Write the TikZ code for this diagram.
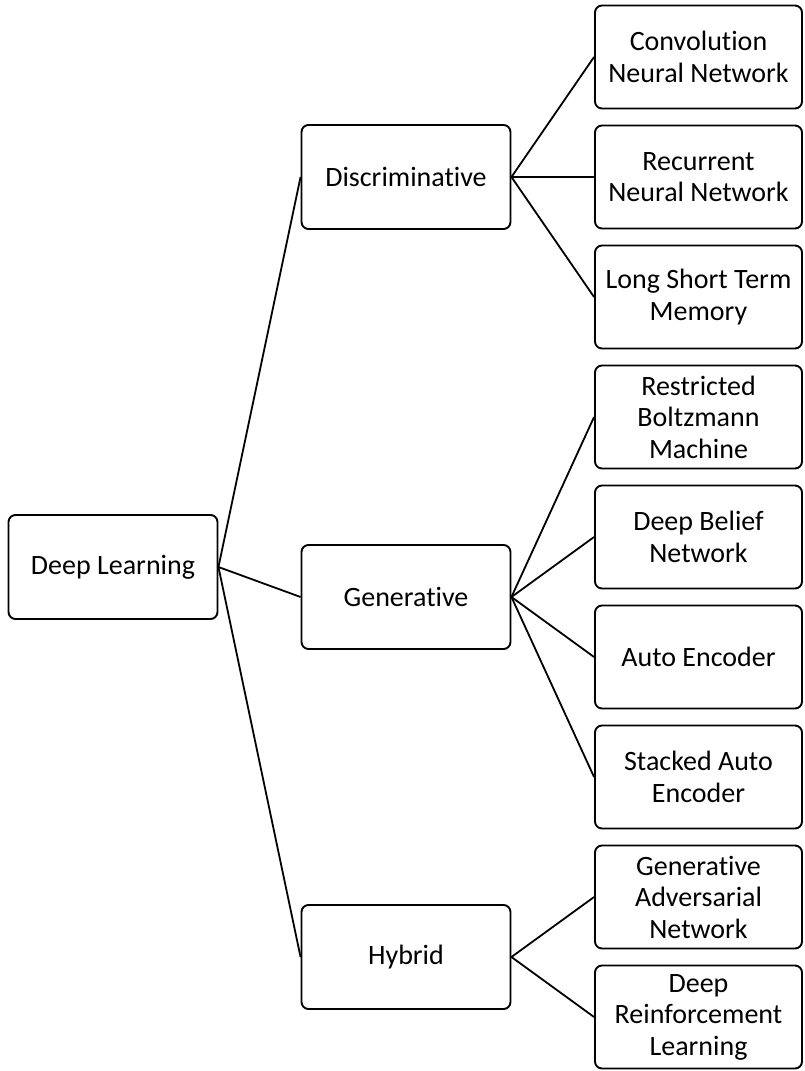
\documentclass[tikz,border=0pt]{standalone}
\usepackage{fontspec}
\setmainfont{Carlito}[Ligatures=NoCommon]
\begin{document}
\begin{tikzpicture}[x=1pt,y=-1pt,
  box/.style={draw=black, line width=1.9pt, rounded corners=7pt, fill=white,
    align=center, inner sep=2pt, font=\fontsize{28}{31.5}\selectfont},
  midbox/.style={box, minimum width=209pt, minimum height=104pt},
  leafbox/.style={box, minimum width=207pt, minimum height=103pt},
  link/.style={draw=black, line width=1.8pt}]
\useasboundingbox (0,0) rectangle (804,1071);
% root
\node[midbox] (dl) at (113,567) {Deep Learning};
% categories
\node[midbox] (disc) at (406,177) {Discriminative};
\node[midbox] (gen) at (406,597) {Generative};
\node[midbox] (hyb) at (406,957) {Hybrid};
% leaves
\node[leafbox] (cnn) at (698.5,57) {Convolution\\Neural Network};
\node[leafbox] (rnn) at (698.5,177) {Recurrent\\Neural Network};
\node[leafbox] (lstm) at (698.5,297) {Long Short Term\\Memory};
\node[leafbox] (rbm) at (698.5,417) {Restricted\\Boltzmann\\Machine};
\node[leafbox] (dbn) at (698.5,537) {Deep Belief\\Network};
\node[leafbox] (ae) at (698.5,657) {Auto Encoder};
\node[leafbox] (sae) at (698.5,777) {Stacked Auto\\Encoder};
\node[leafbox] (gan) at (698.5,897) {Generative\\Adversarial\\Network};
\node[leafbox] (drl) at (698.5,1017) {Deep\\Reinforcement\\Learning};
% connectors
\foreach \c in {disc,gen,hyb} \draw[link] (dl.east) -- (\c.west);
\foreach \c in {cnn,rnn,lstm} \draw[link] (disc.east) -- (\c.west);
\foreach \c in {rbm,dbn,ae,sae} \draw[link] (gen.east) -- (\c.west);
\foreach \c in {gan,drl} \draw[link] (hyb.east) -- (\c.west);
\end{tikzpicture}
\end{document}
